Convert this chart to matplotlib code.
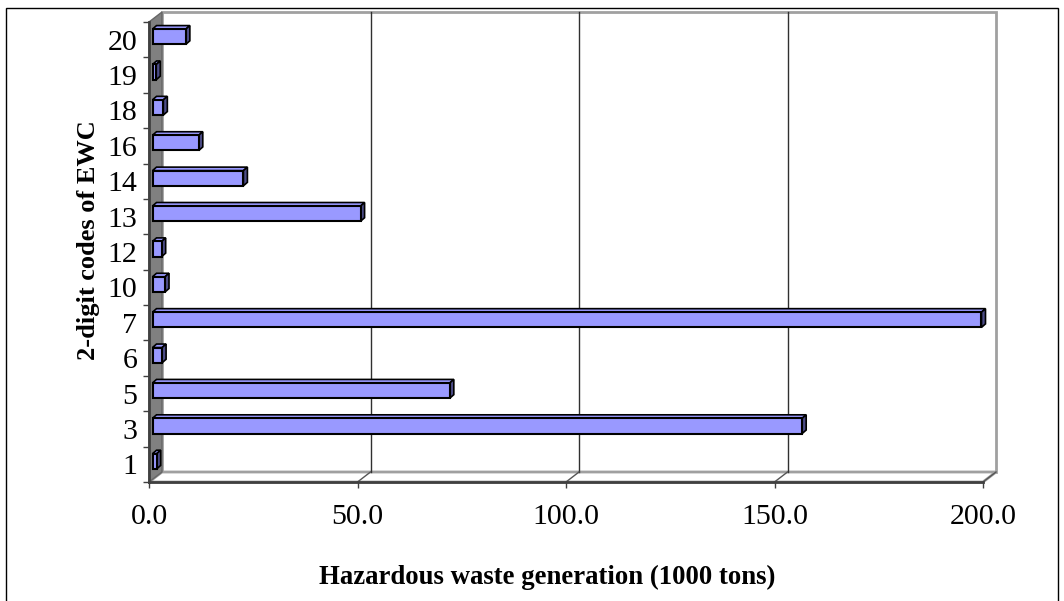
import matplotlib.pyplot as plt
from matplotlib.patches import Polygon, Rectangle
import numpy as np

# EWC 2-digit chapter codes and hazardous waste generated (1000 tons)
codes = ['1', '3', '5', '6', '7', '10', '12', '13', '14', '16', '18', '19', '20']
waste = [1.0, 155.8, 71.3, 2.3, 198.8, 3.0, 2.2, 49.9, 21.8, 11.1, 2.6, 0.9, 8.0]
x_ticks = [0, 50, 100, 150, 200]

plt.rcParams['font.family'] = ['Liberation Serif', 'DejaVu Serif']

W, H = 1064, 601
fig = plt.figure(figsize=(W / 100, H / 100), dpi=100)

# front plane of the pseudo-3D plot box, in pixels
left, right, top, bottom = 149, 983, 22, 482
ax = fig.add_axes([left / W, 1 - bottom / H, (right - left) / W, (bottom - top) / H])
n = len(codes)
ax.set_xlim(0, 200)
ax.set_ylim(-0.5, n - 0.5)

# pixel -> data unit conversion for the depth offsets
sx = (right - left) / 200.0
sy = (bottom - top) / float(n)


def off(px, py):
    return px / sx, py / sy


wx, wy = off(13, 10)      # depth of the walls
fx, fy = off(3.5, 3)      # front face of the bars
bx, by = off(7.5, 6.5)    # back face of the bars
y0, y1 = -0.5, n - 0.5

# walls and floor
ax.add_patch(Rectangle((wx, y0 + wy), 200, n, facecolor='white',
                       edgecolor='#a0a0a0', lw=2, zorder=0, clip_on=False))
ax.add_patch(Polygon([(0, y0), (200, y0), (200 + wx, y0 + wy), (wx, y0 + wy)],
                     closed=True, facecolor='white', edgecolor='#a0a0a0',
                     lw=2, zorder=0.5, clip_on=False))
ax.add_patch(Polygon([(0, y0), (0, y1), (wx, y1 + wy), (wx, y0 + wy)],
                     closed=True, facecolor='#808080', edgecolor='#666666',
                     lw=1, zorder=1, clip_on=False))

# gridlines on the back wall and their traces on the floor
for xv in x_ticks[1:-1]:
    ax.plot([xv + wx, xv + wx], [y0 + wy, y1 + wy], color='#303030',
            lw=1, zorder=0.8, clip_on=False)
for xv in x_ticks[1:]:
    ax.plot([xv, xv + wx], [y0, y0 + wy], color='#555555',
            lw=1, zorder=0.8, clip_on=False)

# bars: front face via barh, then top and side faces
pos = np.arange(n)
h = 0.43
ax.barh(pos + fy, waste, left=fx, height=h, color='#9999ff',
        edgecolor='black', lw=1.5, zorder=3, clip_on=False)
for y, v in zip(pos, waste):
    yt = y + fy + h / 2
    yb = y + fy - h / 2
    ax.add_patch(Polygon([(fx, yt), (fx + v, yt), (bx + v, yt + (by - fy)),
                          (bx, yt + (by - fy))], closed=True,
                         facecolor='#9999ff', edgecolor='black', lw=1.2,
                         zorder=2.9, clip_on=False))
    ax.add_patch(Polygon([(fx + v, yb), (fx + v, yt), (bx + v, yt + (by - fy)),
                          (bx + v, yb + (by - fy))], closed=True,
                         facecolor='#4d4d88', edgecolor='black', lw=1.2,
                         zorder=2.9, clip_on=False))

# axes lines and ticks
for s in ['top', 'right']:
    ax.spines[s].set_visible(False)
for s in ['left', 'bottom']:
    ax.spines[s].set_color('#404040')
    ax.spines[s].set_linewidth(2)
    ax.spines[s].set_zorder(4)
ax.patch.set_visible(False)

ax.set_yticks(pos)
ax.set_yticklabels(codes)
ax.set_yticks(np.arange(n + 1) - 0.5, minor=True)
ax.tick_params(axis='y', which='major', length=0, pad=8.5, labelsize=21.5)
ax.tick_params(axis='y', which='minor', length=4.5, width=1, color='#404040')
ax.set_xticks(x_ticks)
ax.set_xticklabels(['%.1f' % t for t in x_ticks])
ax.tick_params(axis='x', length=4.5, width=1, color='#404040', pad=11,
               labelsize=21.5)

fig.text(547 / W, 1 - 577 / H, 'Hazardous waste generation (1000 tons)',
         ha='center', va='center', fontsize=19.3, fontweight='bold')
fig.text(88 / W, 1 - 240 / H, '2-digit codes of EWC', ha='center',
         va='center', rotation=90, fontsize=19, fontweight='bold')

# chart border
fig.patches.append(Rectangle((6 / W, -0.02), (1058 - 6) / W, 1 - 8 / H + 0.02,
                             transform=fig.transFigure, fill=False,
                             edgecolor='black', lw=1))

fig.savefig('out.png', dpi=100)
